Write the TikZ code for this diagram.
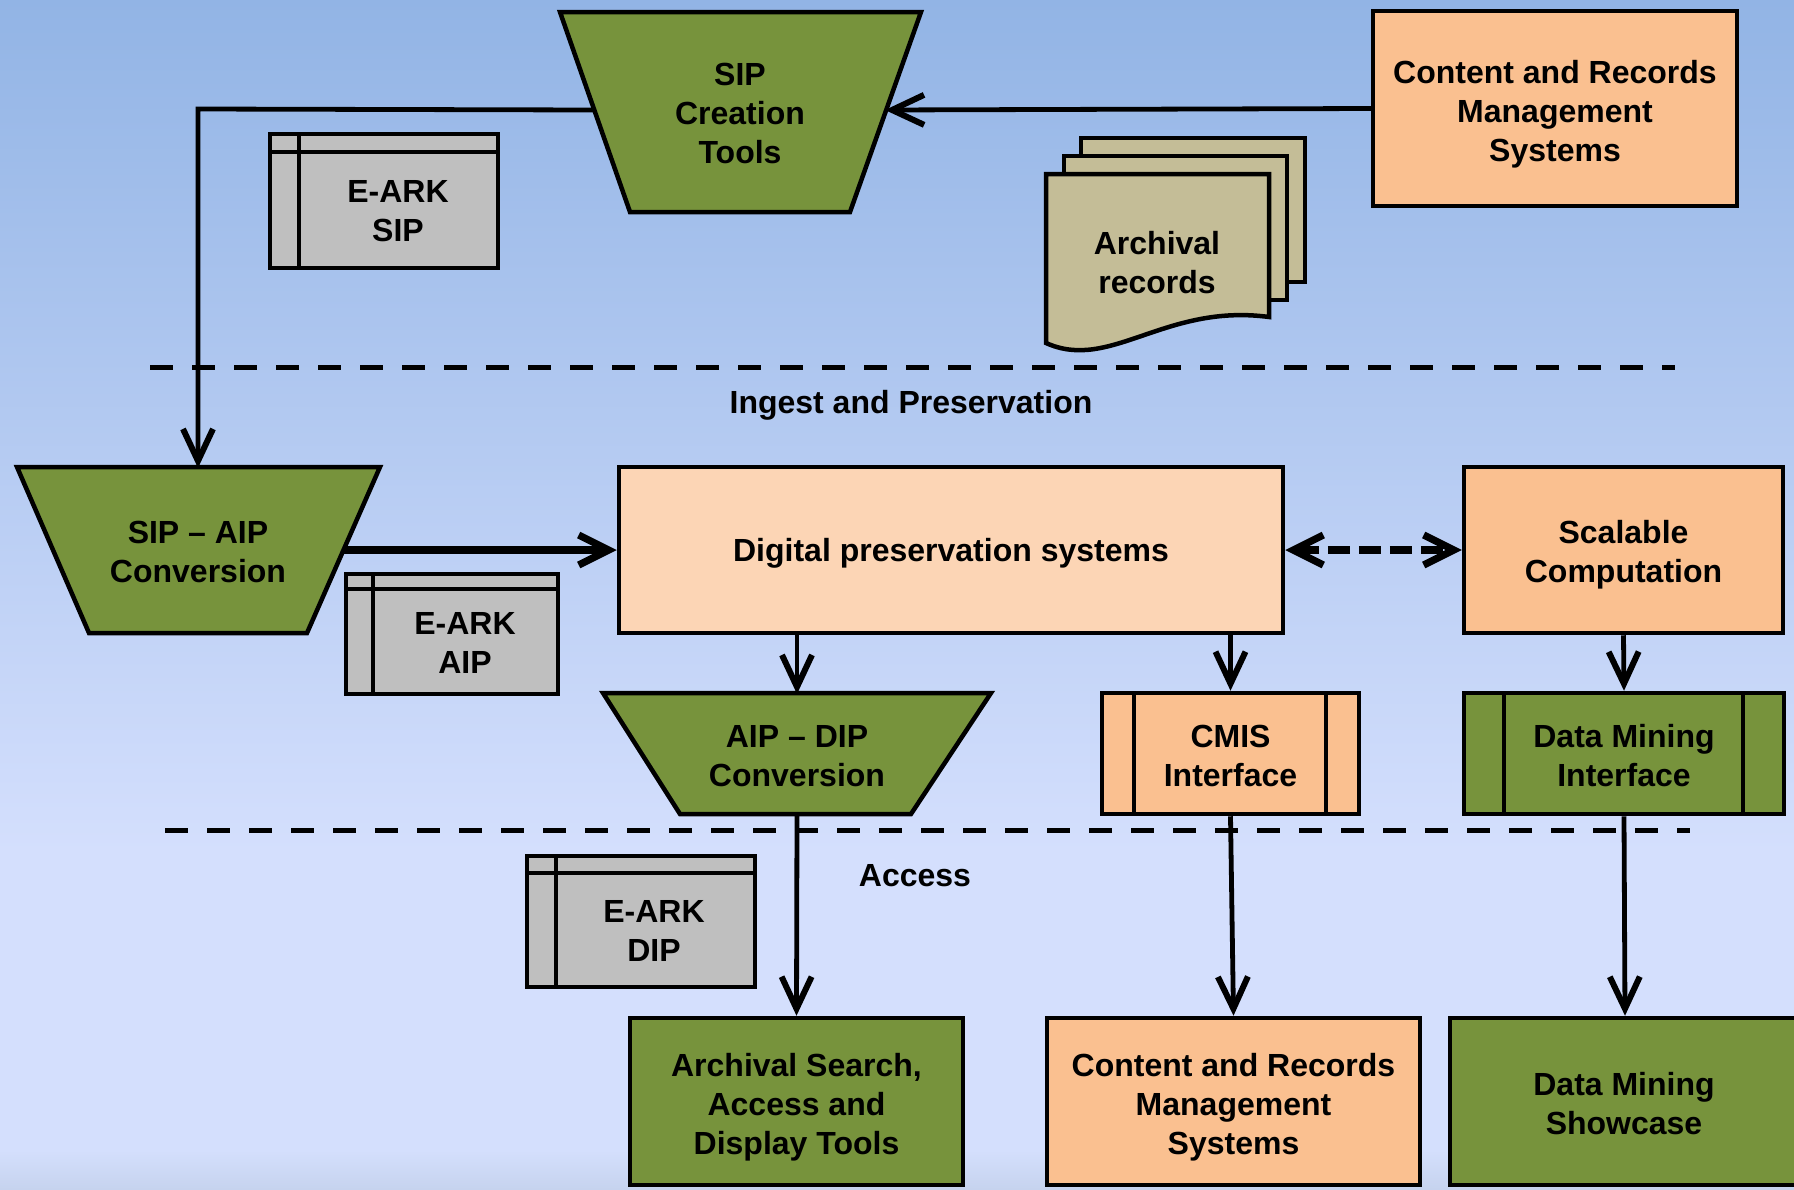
\documentclass[tikz,border=0pt]{standalone}
\usepackage{fontspec}
\setmainfont{Liberation Sans}
\usetikzlibrary{arrows.meta}
\definecolor{cgreen}{HTML}{77933C}
\definecolor{cpeach}{HTML}{FAC090}
\definecolor{clight}{HTML}{FCD5B5}
\definecolor{cgray}{HTML}{BFBFBF}
\definecolor{ctan}{HTML}{C4BD97}
\definecolor{bgtop}{HTML}{92B4E5}
\definecolor{bgmid}{HTML}{D4DFFD}
\definecolor{bgbot}{HTML}{C6D3EE}
\begin{document}
\begin{tikzpicture}[x=0.5pt,y=-0.5pt,
  lbl/.style={font=\fontsize{16}{19.5}\selectfont\bfseries, align=center, inner sep=0pt},
  rbox/.style n args={3}{draw=black, line width=2.25pt, fill=#1, minimum width=#2*0.5pt, minimum height=#3*0.5pt, inner sep=0pt},
  shp/.style={draw=black, line width=2.25pt, line join=miter},
  inl/.style={line width=2pt},
  sep/.style={line width=2.5pt, dash pattern=on 11.5pt off 9.5pt},
  conn/.style={line width=2.4pt, line join=miter, -{Straight Barb[length=16pt,width=15pt,line width=3pt]}},
  thickarr/.style={line width=3.6pt, -{Straight Barb[length=15pt,width=15pt]}},
  dasharr/.style={line width=3.6pt, dash pattern=on 11pt off 4.5pt, {Straight Barb[length=15pt,width=15pt]}-{Straight Barb[length=15pt,width=15pt]}}
]
\useasboundingbox (0,0) rectangle (1794,1189);
% background
\shade[top color=bgtop, bottom color=bgmid] (0,0) rectangle (1794,852);
\fill[bgmid] (0,850) rectangle (1794,1152);
\shade[top color=bgmid, bottom color=bgbot] (0,1150) rectangle (1794,1189);

% separators and section labels
\draw[sep] (150,367) -- (1675,367);
\draw[sep] (165,830) -- (1690,830);
\node[lbl] (ingest) at (911,405) {Ingest and Preservation};
\node[lbl] (access) at (915,876) {Access};

% SIP creation tools
\filldraw[shp, fill=cgreen] (560,12) -- (921,12) -- (850,212) -- (630,212) -- cycle;
\node[lbl] (sipct) at (740,113) {SIP\\Creation\\Tools};
\coordinate (sipctL) at (594,110);
\coordinate (sipctR) at (885,110);

% Content and records management (top)
\node[rbox={cpeach}{364}{195}] (crms1) at (1555,108.5) {};
\node[lbl] (crms1t) at (1555,114) {Content and Records\\Management\\Systems};

% E-ARK SIP
\node[rbox={cgray}{228}{134}] (esip) at (384,201) {};
\draw[inl] (298.5,134) -- (298.5,268);
\draw[inl] (270,152) -- (498,152);
\node[lbl] (esipt) at (398,211) {E-ARK\\SIP};

% Archival records
\filldraw[shp, fill=ctan] (1081,138) rectangle (1305,282);
\filldraw[shp, fill=ctan] (1064,156) rectangle (1287,300);
\filldraw[shp, fill=ctan] (1046,174) -- (1269,174) -- (1269,317)
  .. controls (1165,303) and (1110,372) .. (1046,343) -- cycle;
\node[lbl] (arch) at (1157,263) {Archival\\records};

% SIP - AIP conversion
\filldraw[shp, fill=cgreen] (17,467) -- (380,467) -- (307,633) -- (89,633) -- cycle;
\node[lbl] (sipaip) at (198,552) {SIP -- AIP\\Conversion};
\coordinate (bendA) at (198,109);
\coordinate (sipaipT) at (198,468);
\coordinate (sipaipR) at (343,550);

% Digital preservation systems
\node[rbox={clight}{664}{166}] (dps) at (951,550) {};
\node[lbl] (dpst) at (951,553.5) {Digital preservation systems};

% Scalable computation
\node[rbox={cpeach}{319}{166}] (scal) at (1623.5,550) {};
\node[lbl] (scalt) at (1623.5,554.5) {Scalable\\Computation};

% E-ARK AIP
\node[rbox={cgray}{212}{120}] (eaip) at (452,634) {};
\draw[inl] (373,574) -- (373,694);
\draw[inl] (346,589) -- (558,589);
\node[lbl] (eaipt) at (465,643) {E-ARK\\AIP};

% AIP - DIP conversion
\filldraw[shp, fill=cgreen] (603,693) -- (991,693) -- (911,814) -- (680,814) -- cycle;
\node[lbl] (aipdip) at (797,756) {AIP -- DIP\\Conversion};
\coordinate (aipdipT) at (797,694);
\coordinate (aipdipB) at (797,814);

% CMIS interface
\node[rbox={cpeach}{257}{121}] (cmis) at (1230.5,753.5) {};
\draw[inl] (1134,693) -- (1134,814);
\draw[inl] (1326,693) -- (1326,814);
\node[lbl] (cmist) at (1230.5,756) {CMIS\\Interface};

% Data mining interface
\node[rbox={cgreen}{320}{121}] (dmi) at (1624,753.5) {};
\draw[inl] (1504,693) -- (1504,814);
\draw[inl] (1743,693) -- (1743,814);
\node[lbl] (dmit) at (1624,756) {Data Mining\\Interface};

% E-ARK DIP
\node[rbox={cgray}{228}{131}] (edip) at (641,921.5) {};
\draw[inl] (556,856) -- (556,987);
\draw[inl] (527,873) -- (755,873);
\node[lbl] (edipt) at (654,931) {E-ARK\\DIP};

% bottom row
\node[rbox={cgreen}{333}{167}] (asearch) at (796.5,1101.5) {};
\node[lbl] (asearcht) at (796.5,1107) {Archival Search,\\Access and\\Display Tools};
\node[rbox={cpeach}{373}{167}] (crms2) at (1233.5,1101.5) {};
\node[lbl] (crms2t) at (1233.5,1107) {Content and Records\\Management\\Systems};
\node[rbox={cgreen}{350}{167}] (dms) at (1625,1101.5) {};
\node[lbl] (dmst) at (1624,1103.5) {Data Mining\\Showcase};

% connectors
\draw[conn] (crms1.west) -- (sipctR);
\draw[conn] (sipctL) -- (bendA) -- (sipaipT);
\draw[thickarr] (sipaipR) -- (dps.west);
\draw[dasharr] (dps.east) -- (scal.west);
\draw[conn] (dps.south -| aipdipT) -- (aipdipT);
\draw[conn] (dps.south -| cmis.north) -- (cmis.north);
\draw[conn] (scal.south) -- (dmi.north);
\draw[conn] (aipdipB) -- (asearch.north);
\draw[conn] (cmis.south) -- (crms2.north);
\draw[conn] (dmi.south) -- (dms.north);
\end{tikzpicture}
\end{document}
